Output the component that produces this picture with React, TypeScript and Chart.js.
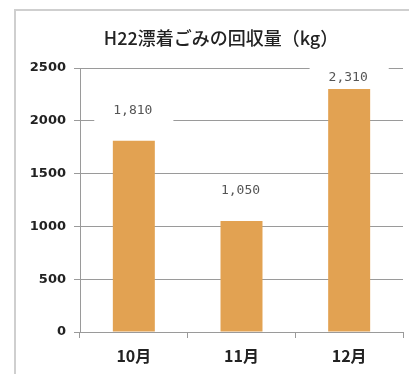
import React, { useEffect, useRef } from "react";
import { Chart, registerables } from "chart.js";

Chart.register(...registerables);

const TITLE = "H22漂着ごみの回収量（kg）";
const CATEGORIES = ["10月", "11月", "12月"];
const VALUES = [1810, 1050, 2310];
const Y_MAX = 2500;
const Y_STEP = 500;

const BAR_COLOR = "#E2A252";
const GRID_COLOR = "#9a9a9a";

const fmt = (v: number) => v.toLocaleString("en-US");

const titlePlugin = {
  id: "customTitle",
  afterDraw(chart: any) {
    const ctx = chart.ctx;
    ctx.save();
    ctx.font = "500 18px 'Noto Sans CJK JP'";
    ctx.fillStyle = "#222";
    ctx.textAlign = "center";
    ctx.textBaseline = "middle";
    ctx.fillText(TITLE, 221, 38);
    ctx.restore();
  },
};

const labelPlugin = {
  id: "barLabels",
  afterDatasetsDraw(chart: any) {
    const ctx = chart.ctx;
    const meta = chart.getDatasetMeta(0);
    const area = chart.chartArea;
    ctx.save();
    ctx.font = "13px 'DejaVu Sans Mono'";
    ctx.textAlign = "center";
    ctx.textBaseline = "middle";
    meta.data.forEach((bar: any, i: number) => {
      const text = fmt(VALUES[i]);
      const y = Math.max(bar.y - 30, area.top + 10);
      const w = ctx.measureText(text).width;
      ctx.fillStyle = "#ffffff";
      ctx.fillRect(bar.x - w / 2 - 20, y - 11, w + 40, 22);
      ctx.fillStyle = "#555";
      ctx.fillText(text, bar.x - 1, y);
    });
    ctx.restore();
  },
};

export default function App() {
  const ref = useRef<HTMLCanvasElement>(null);
  useEffect(() => {
    if (!ref.current) return;
    const chart = new Chart(ref.current, {
      type: "bar",
      data: {
        labels: CATEGORIES,
        datasets: [
          {
            data: VALUES,
            backgroundColor: BAR_COLOR,
            borderWidth: 0,
            barPercentage: 0.39,
            categoryPercentage: 1,
          },
        ],
      },
      options: {
        animation: false,
        responsive: false,
        maintainAspectRatio: false,
        layout: { padding: { top: 68, right: 6, left: 0, bottom: 0 } },
        plugins: {
          legend: { display: false },
          title: { display: false },
          tooltip: { enabled: false },
        },
        scales: {
          x: {
            offset: true,
            grid: {
              offset: true,
              drawOnChartArea: false,
              drawTicks: true,
              tickLength: 6,
              color: GRID_COLOR,
            },
            border: { display: true, color: GRID_COLOR, width: 1 },
            ticks: {
              padding: 8,
              color: "#222",
              font: { family: "'Noto Sans CJK JP'", size: 16, weight: "bold" },
            },
            afterFit(scale: any) {
              scale.height = 42;
            },
          },
          y: {
            min: 0,
            max: Y_MAX,
            grid: {
              color: GRID_COLOR,
              lineWidth: 1,
              tickLength: 6,
            },
            border: { display: true, color: GRID_COLOR, width: 1 },
            ticks: {
              stepSize: Y_STEP,
              padding: 8,
              color: "#222",
              font: { family: "'DejaVu Sans'", size: 13, weight: "bold" },
              callback: (v: any) => String(v),
            },
            afterFit(scale: any) {
              scale.width = 80;
            },
          },
        },
      },
      plugins: [titlePlugin, labelPlugin],
    });
    return () => chart.destroy();
  }, []);

  return (
    <div
      style={{
        position: "fixed",
        left: 0,
        top: 0,
        width: 409,
        height: 374,
        background: "#fff",
      }}
    >
      <canvas ref={ref} width={409} height={374} style={{ display: "block" }} />
      <div
        style={{
          position: "absolute",
          left: 14,
          top: 9,
          width: 409 - 14,
          height: 374 - 9,
          borderLeft: "2px solid #cfcfcf",
          borderTop: "2px solid #cfcfcf",
          boxSizing: "border-box",
          pointerEvents: "none",
        }}
      />
    </div>
  );
}
